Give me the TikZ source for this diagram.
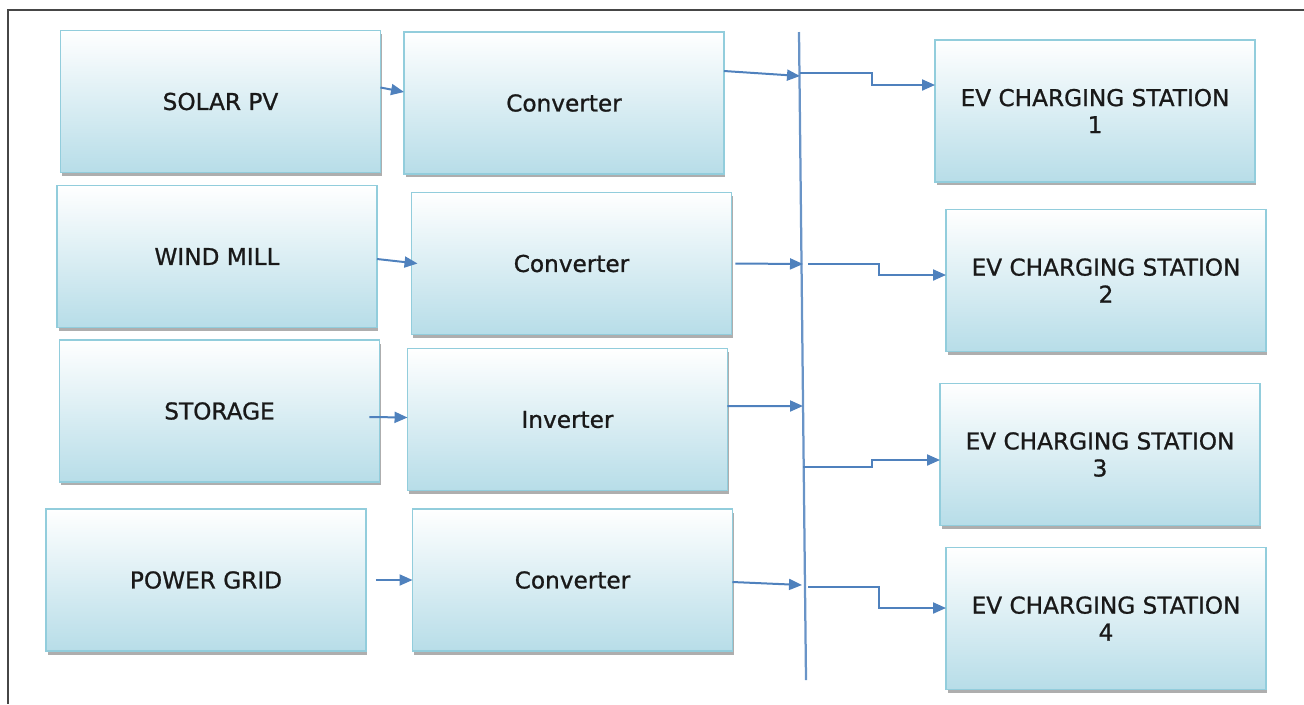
\documentclass[tikz,border=0pt]{standalone}
\usepackage{fontspec}
\setmainfont{DejaVu Sans}[FakeBold=0.9]
\usetikzlibrary{arrows.meta,shadows}
\definecolor{boxline}{RGB}{146,205,220}
\definecolor{boxfill}{RGB}{183,221,232}
\definecolor{flowblue}{RGB}{79,129,189}
\definecolor{framegray}{RGB}{70,70,70}

\begin{document}
\begin{tikzpicture}[x=0.02cm, y=-0.02cm,
 blk/.style={draw=boxline, line width=0.035cm, top color=white, bottom color=boxfill,
   minimum width=6.4cm, minimum height=2.84cm, inner sep=0pt, outer sep=0pt,
   align=center, font=\fontsize{13.2}{15.4}\selectfont, text=black!90,
   drop shadow={shadow xshift=0.03cm, shadow yshift=-0.07cm, fill=black!45, opacity=0.7}},
 flow/.style={draw=flowblue, line width=0.04cm, -{Triangle[length=0.26cm,width=0.22cm]}},
]
\useasboundingbox (0,0) rectangle (1304,704);
\draw[framegray, line width=0.03cm] (1304,10) -- (8,10) -- (8,704);
\node[blk] (PV) at (220.5,101.5) {SOLAR PV};
\node[blk] (WM) at (217,256.5) {WIND MILL};
\node[blk] (ST) at (219.5,411) {STORAGE};
\node[blk] (PG) at (206,580) {POWER GRID};
\node[blk] (C1) at (564,103) {Converter};
\node[blk] (C2) at (571.5,263.5) {Converter};
\node[blk] (INV) at (567.5,419.5) {Inverter};
\node[blk] (C4) at (572.5,580) {Converter};
\node[blk] (EV1) at (1095,111) {EV CHARGING STATION\\1};
\node[blk] (EV2) at (1106,280.5) {EV CHARGING STATION\\2};
\node[blk] (EV3) at (1100,454.5) {EV CHARGING STATION\\3};
\node[blk] (EV4) at (1106,618.5) {EV CHARGING STATION\\4};
\coordinate (bustop) at (799,32);
\coordinate (busbot) at (806,680);
\coordinate (b1) at (800,76);
\coordinate (b2) at (803,264);
\coordinate (b3) at (803,406);
\coordinate (b4) at (802,585);
\coordinate (o1) at (800,73);
\coordinate (o2) at (808,264);
\coordinate (o3) at (803,467);
\coordinate (o4) at (808,587);
\draw[flowblue, line width=0.045cm, opacity=0.85] (bustop) -- (busbot);
\draw[flow] ([yshift=0.28cm]PV.east) -- ([yshift=0.22cm]C1.west);
\draw[flow] ([yshift=-0.05cm]WM.east) -- ([xshift=0.12cm]C2.west);
\draw[flow] ([xshift=-0.2cm,yshift=-0.12cm]ST.east) -- ([yshift=0.04cm]INV.west);
\draw[flow] ([xshift=0.2cm]PG.east) -- (C4.west);
\draw[flow] ([yshift=0.64cm]C1.east) -- (b1);
\draw[flow] ([xshift=0.08cm]C2.east) -- (b2);
\draw[flow] ([yshift=0.27cm]INV.east) -- (b3);
\draw[flow] ([yshift=-0.04cm]C4.east) -- (b4);
\draw[flow] (o1) -- ++(72,0) |- ([yshift=0.52cm]EV1.west);
\draw[flow] (o2) -- ++(71,0) |- ([yshift=0.11cm]EV2.west);
\draw[flow] (o3) -- ++(69,0) |- ([yshift=-0.11cm]EV3.west);
\draw[flow] (o4) -- ++(71,0) |- ([yshift=0.21cm]EV4.west);
\end{tikzpicture}
\end{document}
